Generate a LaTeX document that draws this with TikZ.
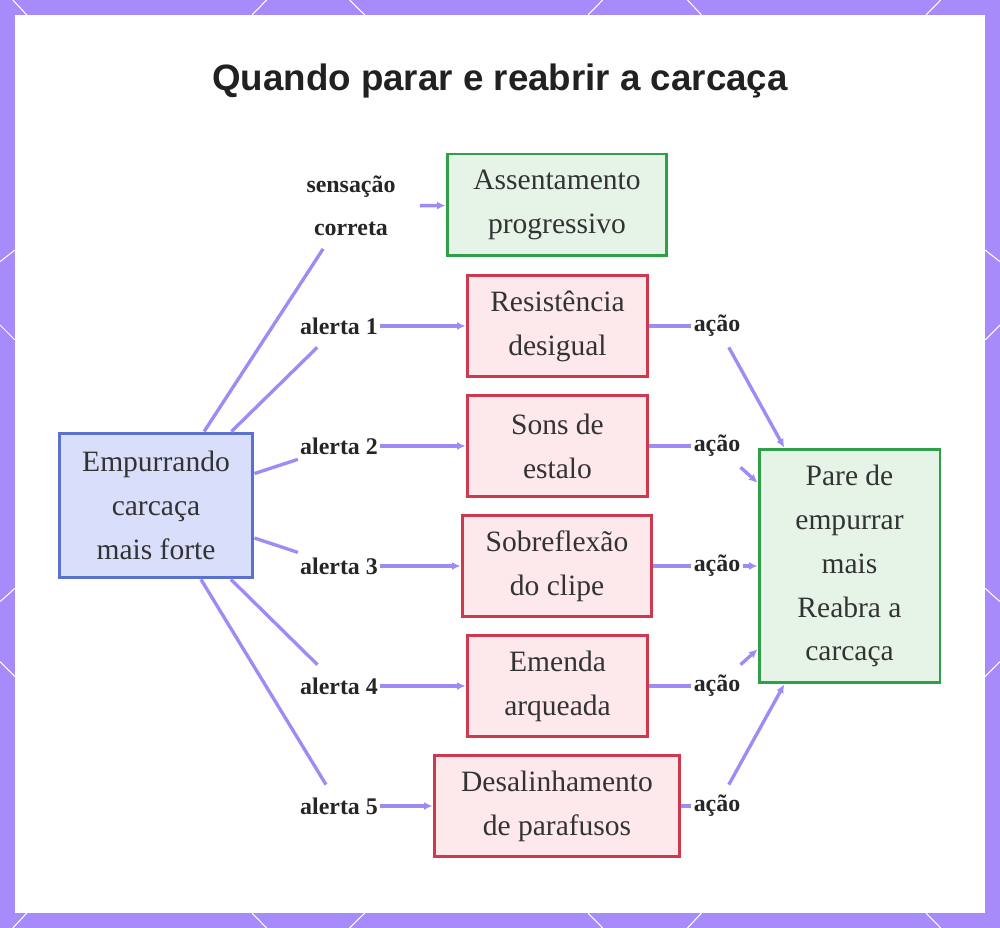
\documentclass[tikz,border=0pt]{standalone}
\usepackage{fontspec}
\setmainfont{Liberation Serif}
\newfontfamily\headfont{Liberation Sans}
\usetikzlibrary{arrows.meta, positioning}

\definecolor{frame}{HTML}{A78BFA}
\definecolor{edge}{HTML}{A08AF5}
\definecolor{ink}{HTML}{333333}
\definecolor{bluefill}{HTML}{D9DEFA}
\definecolor{blueline}{HTML}{5B70CF}
\definecolor{redfill}{HTML}{FDE8EB}
\definecolor{redline}{HTML}{D0394D}
\definecolor{greenfill}{HTML}{E6F4E8}
\definecolor{greenline}{HTML}{2FA048}

\begin{document}
\begin{tikzpicture}[
  x=0.02cm, y=-0.02cm,
  font=\fontsize{16.8}{25}\selectfont, text=ink,
  box/.style={rectangle, draw, line width=1.7pt, align=center,
    minimum height=2.02cm, inner sep=0pt},
  alertbox/.style={box, draw=redline, fill=redfill, minimum width=3.62cm},
  goodbox/.style={box, draw=greenline, fill=greenfill},
  tag/.style={fill=white, font=\fontsize{13.6}{24.5}\selectfont\bfseries,
    text=black!85, align=center, minimum height=0.84cm,
    inner xsep=0.04cm, inner ysep=0pt},
  link/.style={draw=edge, line width=1.9pt},
  arr/.style={link, -{Latex[length=1.7mm, width=1.6mm]}}
]
\useasboundingbox (0,0) rectangle (1000,928);

% frame
\fill[frame] (0,0) rectangle (1000,928);
\fill[white] (15,15) rectangle (985,913);
\foreach \xa/\ya/\xb/\yb in {12.8/0/26.8/15, 266.6/0/252/15, 349.5/0/364.8/15,
    602.7/0/588/15, 687.5/0/701.5/15, 940.7/0/926/15,
    12.8/928/26.8/913, 266.6/928/252/913, 349.5/928/364.8/913,
    602.7/928/588/913, 687.5/928/701.5/913, 940.7/928/926/913,
    0/261.7/15/250, 0/325/15/340, 0/601.7/15/588.3, 0/661.7/15/676.7,
    1000/261.7/985/250, 1000/325/985/340, 1000/601.7/985/588.3, 1000/661.7/985/676.7}
  \draw[white, line width=0.6pt] (\xa,\ya) -- (\xb,\yb);

\node[font=\headfont\bfseries\fontsize{20.9}{24}\selectfont, text=black!87] (title)
  at (500,81) {Quando parar e reabrir a carcaça};

% boxes
\node[box, draw=blueline, fill=bluefill, minimum width=3.88cm, minimum height=2.9cm] (push)
  at (156,505.5) {Empurrando\\carcaça\\mais forte};
\node[goodbox, minimum width=4.4cm, minimum height=2.04cm] (seat) at (557,205) {Assentamento\\progressivo};
\node[alertbox] (res) at (557.5,326) {Resistência\\desigual};
\node[alertbox] (pop) at (557.5,446) {Sons de\\estalo};
\node[alertbox, minimum width=3.8cm] (flex) at (557,566) {Sobreflexão\\do clipe};
\node[alertbox] (arch) at (557.5,686) {Emenda\\arqueada};
\node[alertbox, minimum width=4.92cm] (mis) at (557,806) {Desalinhamento\\de parafusos};
\node[goodbox, minimum width=3.62cm, minimum height=4.68cm] (stop)
  at (849.5,566) {Pare de\\empurrar\\mais\\Reabra a\\carcaça};

% labels
\node[tag, minimum width=2.74cm, minimum height=1.7cm] (l0) at (351,206) {sensação\\correta};
\foreach \i/\y in {1/326, 2/446, 3/566, 4/686, 5/806} {
  \node[tag] (l\i) at (339,\y) {alerta \i};
  \node[tag] (a\i) at (717,\y) {ação};
}

% connectors
\draw[link] (push) -- (l0);
\draw[arr] (l0) -- (seat);
\foreach \i/\b in {1/res, 2/pop, 3/flex, 4/arch, 5/mis} {
  \draw[link] (push) -- (l\i);
  \draw[arr] (l\i) -- (\b);
  \draw[link] (\b) -- (a\i);
  \draw[arr] (a\i) -- (stop);
}
\end{tikzpicture}
\end{document}
